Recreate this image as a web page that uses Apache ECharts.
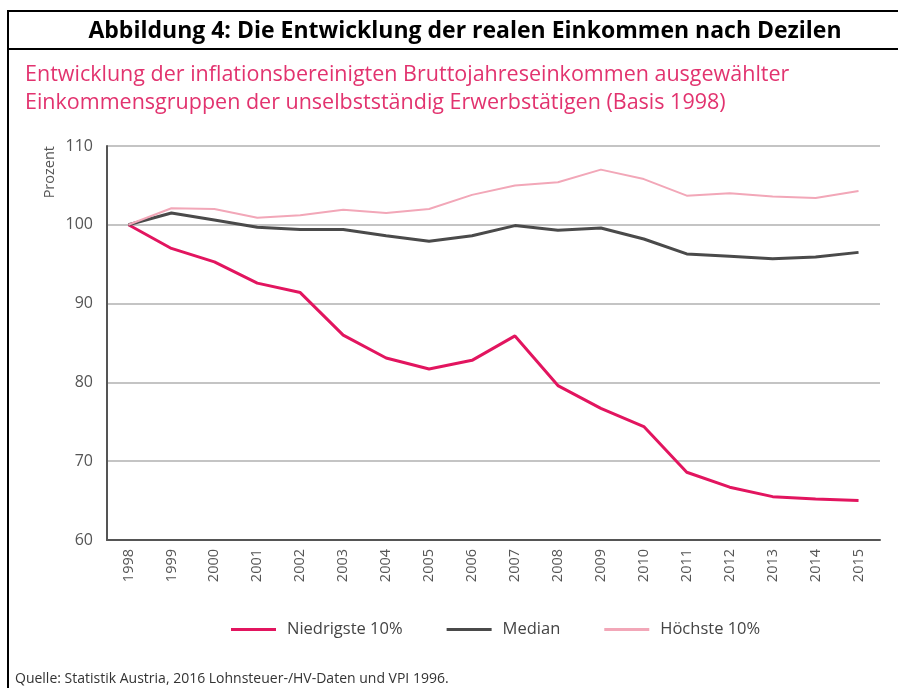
<!DOCTYPE html>
<html>
<head>
<meta charset="utf-8">
<script src="https://cdn.jsdelivr.net/npm/echarts@6/dist/echarts.min.js"></script>
<style>
  html, body { margin: 0; padding: 0; background: #fff; }
  #chart { width: 898px; height: 688px; }
</style>
</head>
<body>
<div id="chart"></div>
<script>
// Jahre (x-Achse)
const years = ['1998', '1999', '2000', '2001', '2002', '2003', '2004', '2005', '2006',
  '2007', '2008', '2009', '2010', '2011', '2012', '2013', '2014', '2015']

// Werte (Basis 1998 = 100)
const niedrigste = [100, 97.0, 95.3, 92.6, 91.4, 86.0, 83.1, 81.7, 82.8,
  85.9, 79.6, 76.7, 74.4, 68.6, 66.7, 65.5, 65.2, 65.0]
const median = [100, 101.5, 100.6, 99.7, 99.4, 99.4, 98.6, 97.9, 98.6,
  99.9, 99.3, 99.6, 98.2, 96.3, 96.0, 95.7, 95.9, 96.5]
const hoechste = [100, 102.1, 102.0, 100.9, 101.2, 101.9, 101.5, 102.0, 103.8,
  105.0, 105.4, 107.0, 105.8, 103.7, 104.0, 103.6, 103.4, 104.3]

const seriesNames = ['Niedrigste 10%', 'Median', 'Höchste 10%']
const seriesColors = ['#e2155f', '#4a4a4a', '#f2a7b8']

const titleText = 'Abbildung 4: Die Entwicklung der realen Einkommen nach Dezilen'
const subtitleText = 'Entwicklung der inflationsbereinigten Bruttojahreseinkommen ausgewählter\nEinkommensgruppen der unselbstständig Erwerbstätigen (Basis 1998)'
const sourceText = 'Quelle: Statistik Austria, 2016 Lohnsteuer-/HV-Daten und VPI 1996.'

const myChart = echarts.init(document.getElementById('chart'))
const bodyFont = '"Open Sans", sans-serif'

const option = {
  animation: false,
  title: [
    {
      text: titleText,
      left: 460,
      textAlign: 'center',
      top: 15,
      textStyle: { fontFamily: bodyFont, fontSize: 23, fontWeight: 'bold', color: '#000' },
    },
    {
      text: subtitleText,
      left: 20,
      top: 56,
      textStyle: { fontFamily: bodyFont, fontSize: 21.5, fontWeight: 'normal', color: '#e2336f', lineHeight: 28 },
    },
    {
      text: sourceText,
      left: 10,
      top: 667,
      textStyle: { fontFamily: bodyFont, fontSize: 14, fontWeight: 'normal', color: '#333' },
    },
  ],
  // Rahmen um die Abbildung
  graphic: [
    { type: 'line', shape: { x1: 8, y1: 11, x2: 898, y2: 11 }, style: { stroke: '#000', lineWidth: 2 } },
    { type: 'line', shape: { x1: 8, y1: 49, x2: 898, y2: 49 }, style: { stroke: '#000', lineWidth: 2 } },
    { type: 'line', shape: { x1: 8, y1: 10, x2: 8, y2: 688 }, style: { stroke: '#000', lineWidth: 2 } },
  ],
  legend: {
    data: seriesNames,
    left: 226,
    top: 616,
    icon: 'rect',
    itemWidth: 45,
    itemHeight: 3,
    itemGap: 44,
    textStyle: { fontFamily: bodyFont, fontSize: 16.5, color: '#444', padding: [0, 0, 0, 6] },
  },
  grid: {
    left: 107,
    right: 18,
    top: 146,
    bottom: 148,
  },
  xAxis: {
    type: 'category',
    data: years,
    boundaryGap: true,
    axisLine: { lineStyle: { color: '#555', width: 2 } },
    axisTick: { show: false },
    axisLabel: { rotate: 90, margin: 9, fontFamily: bodyFont, fontSize: 14.5, color: '#555', interval: 0 },
  },
  yAxis: {
    type: 'value',
    name: 'Prozent',
    nameLocation: 'end',
    nameRotate: 90,
    nameGap: 0,
    nameTextStyle: { fontFamily: bodyFont, fontSize: 14.5, color: '#555', align: 'right', verticalAlign: 'bottom', padding: [0, 0, 50, 0] },
    min: 60,
    max: 110,
    interval: 10,
    axisLine: { show: true, lineStyle: { color: '#555', width: 2 } },
    axisTick: { show: false },
    axisLabel: { fontFamily: bodyFont, fontSize: 16, color: '#555', margin: 14 },
    splitLine: { lineStyle: { color: '#c4c4c4', width: 2 } },
  },
  series: [
    { name: seriesNames[0], type: 'line', data: niedrigste, showSymbol: false, lineStyle: { width: 3, color: seriesColors[0] }, itemStyle: { color: seriesColors[0] } },
    { name: seriesNames[1], type: 'line', data: median, showSymbol: false, lineStyle: { width: 3, color: seriesColors[1] }, itemStyle: { color: seriesColors[1] } },
    { name: seriesNames[2], type: 'line', data: hoechste, showSymbol: false, lineStyle: { width: 2, color: seriesColors[2] }, itemStyle: { color: seriesColors[2] } },
  ],
}

myChart.setOption(option)
</script>
</body>
</html>
